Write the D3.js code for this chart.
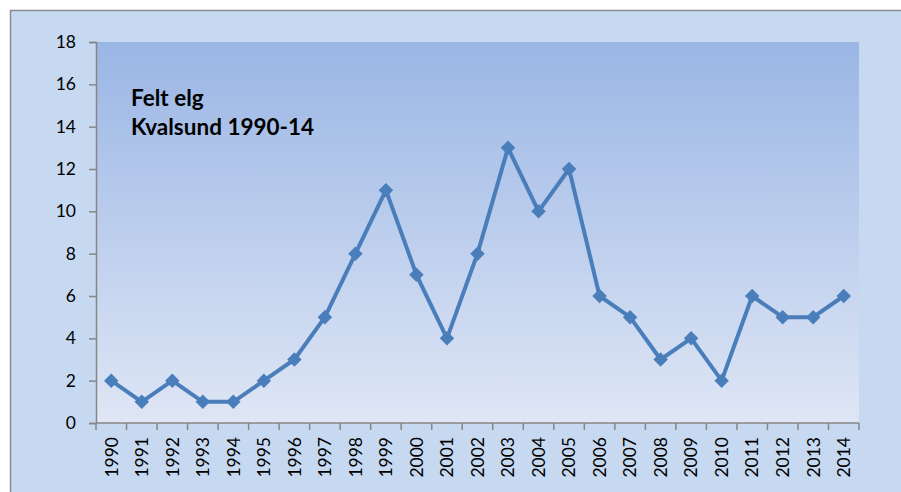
<!DOCTYPE html>
<html><head><meta charset="utf-8">
<script src="https://cdn.jsdelivr.net/npm/d3@7"></script>
<style>html,body{margin:0;padding:0;background:#fff;}</style>
</head><body>
<svg id="c" width="901" height="492"></svg>
<script>
const years = ["1990","1991","1992","1993","1994","1995","1996","1997","1998","1999","2000","2001","2002","2003","2004","2005","2006","2007","2008","2009","2010","2011","2012","2013","2014"];
const values = [2,1,2,1,1,2,3,5,8,11,7,4,8,13,10,12,6,5,3,4,2,6,5,5,6];
const yTicks = [0,2,4,6,8,10,12,14,16,18];
const titleLines = ["Felt elg","Kvalsund 1990-14"];

const svg = d3.select("#c");
const font = "Lato, 'Open Sans', sans-serif";
svg.append("rect").attr("x",10.5).attr("y",10.5).attr("width",900).attr("height",490)
  .attr("fill","#c6d9f1").attr("stroke","#8c8c8c").attr("stroke-width",1.5);

const m = {l:96, r:859, t:42, b:423};
const defs = svg.append("defs");
const g = defs.append("linearGradient").attr("id","bg").attr("x1",0).attr("y1",0).attr("x2",0).attr("y2",1);
g.append("stop").attr("offset","0%").attr("stop-color","#9ab6e5");
g.append("stop").attr("offset","100%").attr("stop-color","#dfe6f5");
svg.append("rect").attr("x",m.l).attr("y",m.t).attr("width",m.r-m.l).attr("height",m.b-m.t).attr("fill","url(#bg)");

const x = d3.scaleBand().domain(years).range([m.l,m.r]);
const y = d3.scaleLinear().domain([0,18]).range([m.b,m.t]);

// y axis
const ya = svg.append("g").attr("transform",`translate(${m.l},0)`)
  .call(d3.axisLeft(y).tickValues(yTicks).tickSize(7).tickPadding(13));
ya.select(".domain").attr("stroke","#868686").attr("stroke-width",1.5);
ya.selectAll(".tick line").attr("stroke","#868686").attr("stroke-width",1.5);
ya.selectAll("text").attr("font-family",font).attr("font-size",17.5).attr("fill","#000");

// x axis
const xa = svg.append("g").attr("transform",`translate(0,${m.b})`)
  .call(d3.axisBottom(x).tickSize(0).tickPadding(0));
xa.select(".domain").remove();
svg.append("line").attr("x1",m.l).attr("x2",m.r).attr("y1",m.b).attr("y2",m.b)
  .attr("stroke","#868686").attr("stroke-width",1.5);
svg.append("g").selectAll("line").data(years.concat(["end"])).join("line")
  .attr("x1",(d,i)=>m.l+i*x.step()).attr("x2",(d,i)=>m.l+i*x.step())
  .attr("y1",m.b).attr("y2",m.b+7).attr("stroke","#868686").attr("stroke-width",1.5);
xa.selectAll("text").attr("font-family",font).attr("font-size",17.5).attr("fill","#000")
  .attr("text-anchor","end").attr("dy","0.36em")
  .attr("transform","translate(0,14) rotate(-90)");

// line
const line = d3.line().x((d,i)=>x(years[i])+x.bandwidth()/2).y(d=>y(d));
svg.append("path").datum(values).attr("d",line).attr("fill","none")
  .attr("stroke","#4a7ebb").attr("stroke-width",4).attr("stroke-linejoin","round");
svg.append("g").selectAll("path").data(values).join("path")
  .attr("d",d3.symbol(d3.symbolSquare, 105)())
  .attr("transform",(d,i)=>`translate(${x(years[i])+x.bandwidth()/2},${y(d)}) rotate(45)`)
  .attr("fill","#4a7ebb");

// title
svg.append("g").selectAll("text").data(titleLines).join("text")
  .attr("x",131).attr("y",(d,i)=>106+i*29)
  .attr("font-family",font).attr("font-weight","bold").attr("font-size",22.5).attr("fill","#000")
  .text(d=>d);
</script>
</body></html>
